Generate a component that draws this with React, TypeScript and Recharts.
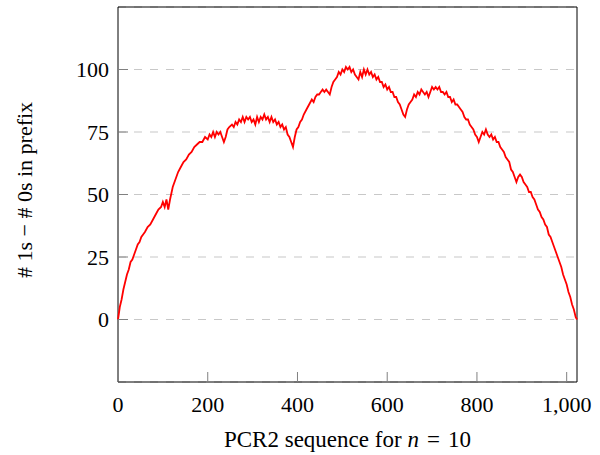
import React from "react";
import {
  LineChart,
  Line,
  XAxis,
  YAxis,
  CartesianGrid,
  ReferenceArea,
} from "recharts";

// Position in the PCR2 sequence (n = 10)
const positions: number[] = [
  0, 4, 8, 12, 16, 20, 24, 28, 32, 36, 40, 44, 48, 52, 56, 60, 66, 72, 78, 84,
  90, 96, 100, 104, 108, 112, 116, 122, 128, 134, 140, 146, 152, 158, 164, 170,
  176, 182, 188, 194, 200, 204, 208, 212, 216, 220, 224, 228, 232, 236, 240,
  244, 248, 254, 258, 262, 266, 270, 274, 278, 282, 286, 290, 294, 298, 302,
  306, 310, 314, 318, 322, 326, 330, 334, 338, 342, 346, 350, 354, 358, 362,
  366, 370, 374, 378, 382, 386, 390, 394, 398, 402, 406, 410, 414, 420, 426,
  432, 436, 440, 444, 448, 452, 456, 460, 464, 468, 472, 476, 480, 484, 488,
  492, 496, 500, 504, 508, 512, 516, 520, 524, 528, 532, 536, 540, 544, 548,
  552, 556, 560, 564, 568, 572, 576, 580, 584, 588, 592, 596, 600, 604, 608,
  612, 616, 620, 624, 628, 632, 636, 640, 644, 648, 652, 656, 660, 664, 668,
  672, 676, 680, 684, 688, 692, 696, 700, 704, 708, 712, 716, 720, 724, 728,
  732, 736, 740, 744, 748, 752, 756, 760, 764, 768, 772, 776, 780, 784, 788,
  792, 796, 800, 804, 808, 812, 816, 820, 824, 828, 832, 836, 840, 844, 848,
  852, 856, 860, 864, 868, 872, 876, 880, 884, 888, 892, 896, 900, 904, 908,
  912, 916, 920, 924, 928, 932, 936, 940, 944, 948, 952, 956, 960, 964, 968,
  972, 976, 980, 984, 988, 992, 996, 1000, 1004, 1008, 1012, 1016, 1020, 1023,
];

// # 1s − # 0s in the prefix
const balance: number[] = [
  0, 5, 8, 12, 15, 18, 20, 23, 24, 26, 28, 30, 31, 33, 34, 35, 37, 38, 40, 42,
  44, 45, 47, 45, 48, 44, 48, 53, 56, 59, 61, 63, 64, 66, 67, 69,
  70, 71, 71, 73, 72, 74, 73, 75, 73, 75, 74, 75, 73, 71, 73,
  76, 77, 78, 77, 79, 78, 80, 79, 81, 79, 81, 80, 81, 79, 80,
  78, 81, 79, 81, 80, 82, 80, 81, 79, 81, 79, 80, 78, 79, 77,
  78, 76, 77, 74, 73, 71, 69, 73, 76, 77, 79, 80, 82, 84, 86,
  88, 87, 89, 90, 90, 91, 92, 91, 92, 91, 90, 93, 95, 96, 97,
  99, 98, 100, 99, 101, 100, 101, 99, 100, 98, 97, 96, 99, 97, 100,
  98, 100, 98, 99, 97, 98, 96, 97, 95, 95, 93, 94, 92, 93, 91,
  91, 89, 89, 87, 86, 84, 82, 81, 84, 86, 87, 88, 90, 89, 91,
  90, 92, 91, 90, 91, 89, 91, 93, 92, 93, 92, 93, 91, 91, 90,
  91, 89, 89, 87, 88, 86, 86, 85, 84, 83, 81, 80, 80, 78, 77,
  76, 74, 73, 71, 73, 75, 74, 76, 74, 73, 74, 72, 73, 71, 71,
  69, 68, 67, 65, 64, 63, 60, 59, 57, 55, 57, 58, 57, 55, 54,
  53, 51, 51, 49, 48, 46, 44, 43, 41, 40, 38, 37, 34, 33, 31,
  29, 27, 25, 23, 21, 18, 16, 14, 11, 9, 6, 4, 1, 0,
];

const xTicks: number[] = [0, 200, 400, 600, 800, 1000];
const yTicks: number[] = [0, 25, 50, 75, 100];
const xDomain: [number, number] = [0, 1023];
const yDomain: [number, number] = [-25, 125];

const xTitle = "PCR2 sequence for";
const xTitleVar = "n";
const xTitleEq = "=";
const xTitleNum = "10";
const yTitle = "# 1s \u2212 # 0s in prefix";

const data = positions.map((x, i) => ({ x, v: balance[i] }));

const FONT = "'Liberation Serif', 'Times New Roman', serif";
const tickStyle = { fontSize: 22, fontFamily: FONT, fill: "#000" };

export default function App() {
  return (
    <div style={{ position: "absolute", left: 0, top: 0 }}>
      <LineChart
        width={600}
        height={455}
        data={data}
        margin={{ top: 7, right: 23, bottom: 0, left: 0 }}
      >
        <CartesianGrid
          vertical={false}
          stroke="#c8c8c8"
          strokeWidth={1.2}
          strokeDasharray="8 8"
        />
        <XAxis
          dataKey="x"
          type="number"
          domain={xDomain}
          ticks={xTicks}
          height={73}
          axisLine={false}
          tickSize={-10}
          tickMargin={24}
          tickLine={{ stroke: "#808080" }}
          tick={tickStyle}
          tickFormatter={(v: number) => v.toLocaleString("en-US")}
          label={{
            content: (p: any) => {
              const vb = p.viewBox || {};
              return (
                <text
                  x={vb.x + vb.width / 2}
                  y={vb.y + 65}
                  textAnchor="middle"
                  fontFamily={FONT}
                  fontSize={23}
                  fill="#000"
                >
                  {xTitle}
                  <tspan dx={6} fontStyle="italic">{xTitleVar}</tspan>
                  <tspan dx={8}>{xTitleEq}</tspan>
                  <tspan dx={8}>{xTitleNum}</tspan>
                </text>
              );
            },
          }}
        />
        <XAxis
          xAxisId="top"
          dataKey="x"
          type="number"
          orientation="top"
          domain={xDomain}
          ticks={xTicks}
          height={0}
          axisLine={false}
          tickSize={-10}
          tickLine={{ stroke: "#808080" }}
          tick={() => <g />}
        />
        <YAxis
          type="number"
          domain={yDomain}
          ticks={yTicks}
          width={118}
          axisLine={false}
          tickSize={-10}
          tickMargin={19}
          tickLine={{ stroke: "#808080" }}
          tick={tickStyle}
          label={{
            content: () => {
              const cx = 31.5;
              const cy = 190;
              return (
                <text
                  x={cx}
                  y={cy}
                  transform={`rotate(-90, ${cx}, ${cy})`}
                  textAnchor="middle"
                  fontFamily={FONT}
                  fontSize={22}
                  fill="#000"
                >
                  {yTitle}
                </text>
              );
            },
          }}
        />
        <ReferenceArea
          x1={xDomain[0]}
          x2={xDomain[1]}
          y1={yDomain[0]}
          y2={yDomain[1]}
          fill="none"
          fillOpacity={0}
          stroke="#000"
          strokeWidth={1}
        />
        <Line
          type="linear"
          dataKey="v"
          stroke="#ff0000"
          strokeWidth={1.8}
          dot={false}
          isAnimationActive={false}
        />
      </LineChart>
    </div>
  );
}
